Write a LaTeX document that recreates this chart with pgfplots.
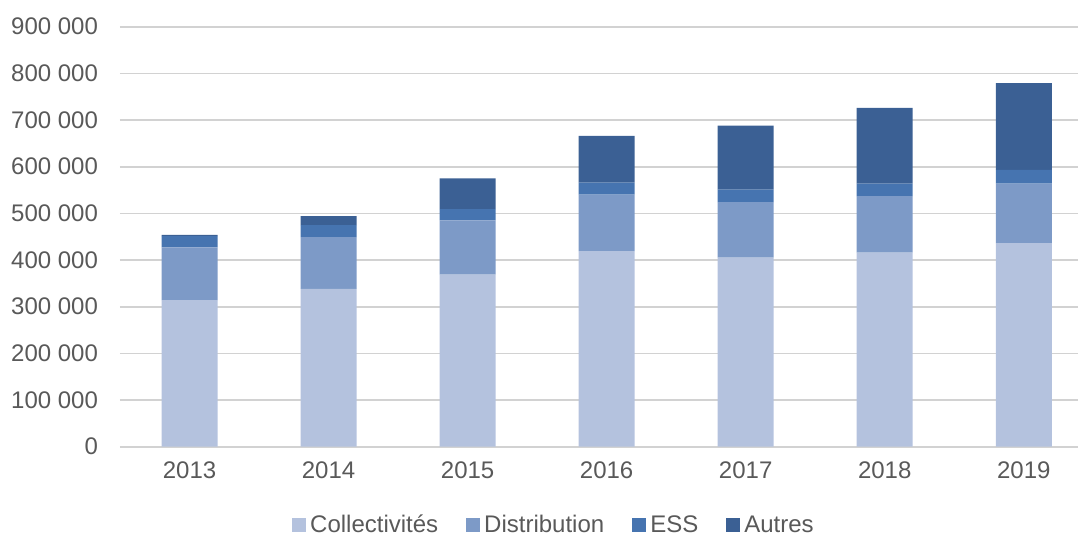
\documentclass[border=0pt]{standalone}
\usepackage{pgfplots}
\pgfplotsset{compat=1.18}
\usepackage{fontspec}
\setmainfont{Liberation Sans}
\definecolor{cColl}{RGB}{180,194,222}
\definecolor{cDist}{RGB}{125,154,199}
\definecolor{cESS}{RGB}{70,116,176}
\definecolor{cAut}{RGB}{59,96,148}
\definecolor{gridc}{RGB}{210,210,210}
\definecolor{txt}{RGB}{89,89,89}
\begin{document}
\begin{tikzpicture}
\useasboundingbox (-60pt,-44.65pt) rectangle (481pt,223.35pt);
\begin{axis}[
  at={(0,0)}, anchor=south west,
  scale only axis, width=479pt, height=210pt,
  ybar stacked, bar width=28pt,
  xmin=-0.5, xmax=6.39, ymin=0, ymax=900000,
  xtick={0,...,6}, xticklabels={2013,2014,2015,2016,2017,2018,2019},
  ytick={0,100000,...,900000},
  yticklabels={0,100 000,200 000,300 000,400 000,500 000,600 000,700 000,800 000,900 000},
  scaled y ticks=false,
  ymajorgrids, grid style={gridc, line width=0.8pt},
  axis line style={draw=none}, major tick style={draw=none},
  tick label style={font=\fontsize{12}{14}\selectfont, text=txt},
  yticklabel style={xshift=-7.5pt},
  xticklabel style={yshift=-4pt},
  legend style={at={(0.454,-0.186)}, anchor=center, draw=none, fill=none,
    legend columns=4, font=\fontsize{12}{14}\selectfont, text=txt,
    nodes={text height=8.6pt, text depth=0.5pt, inner xsep=2pt},
    /tikz/every even column/.append style={column sep=12pt}},
  legend image code/.code={\fill[#1,draw=none] (0pt,-3.5pt) rectangle (7pt,3.5pt);},
]
\addplot[fill=cColl, draw=none] coordinates {(0,314000) (1,338000) (2,369000) (3,419000) (4,405000) (5,416000) (6,436000)};
\addplot[fill=cDist, draw=none] coordinates {(0,113000) (1,111000) (2,116000) (3,121000) (4,119000) (5,121000) (6,128000)};
\addplot[fill=cESS, draw=none] coordinates {(0,24000) (1,26000) (2,24000) (3,26000) (4,27000) (5,27000) (6,29000)};
\addplot[fill=cAut, draw=none] coordinates {(0,3000) (1,19000) (2,66000) (3,100000) (4,137000) (5,162000) (6,186000)};
\legend{Collectivités,Distribution,ESS,Autres}
\end{axis}
\end{tikzpicture}
\end{document}
